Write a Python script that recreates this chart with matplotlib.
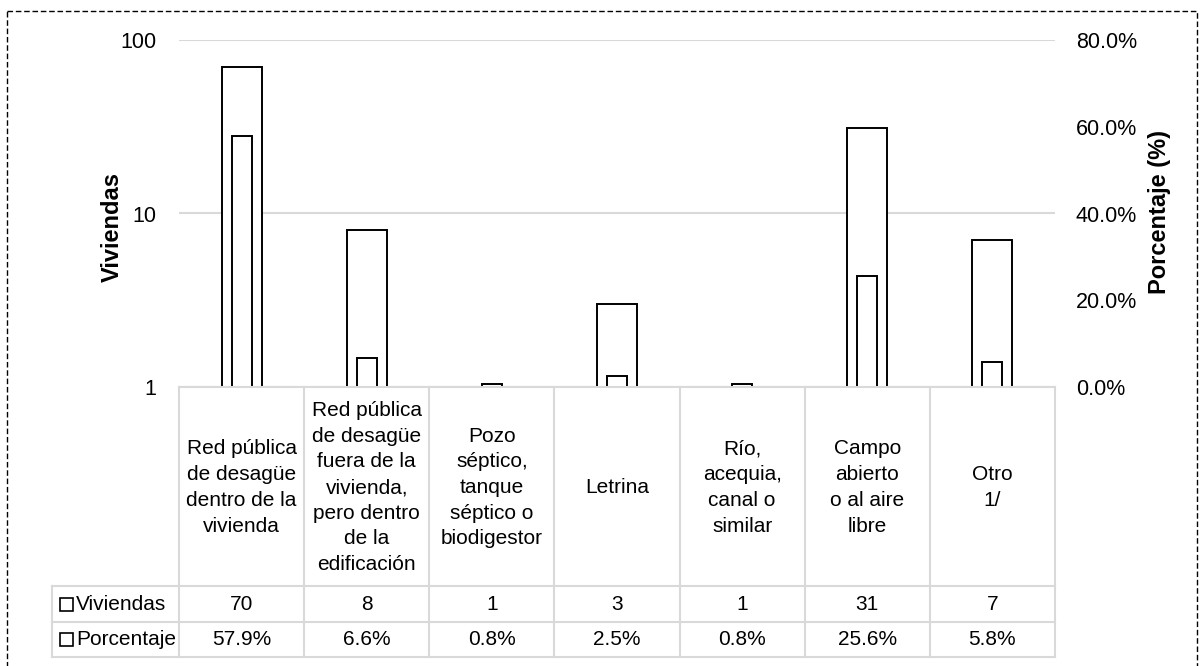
import matplotlib
matplotlib.use("Agg")
import matplotlib.pyplot as plt
from matplotlib.patches import Rectangle
from matplotlib.ticker import FixedLocator, FixedFormatter, PercentFormatter

plt.rcParams['font.family'] = ['Liberation Sans Narrow', 'Liberation Sans', 'DejaVu Sans']

categories = [
    "Red pública\nde desagüe\ndentro de la\nvivienda",
    "Red pública\nde desagüe\nfuera de la\nvivienda,\npero dentro\nde la\nedificación",
    "Pozo\nséptico,\ntanque\nséptico o\nbiodigestor",
    "Letrina",
    "Río,\nacequia,\ncanal o\nsimilar",
    "Campo\nabierto\no al aire\nlibre",
    "Otro\n1/",
]
viviendas = [70, 8, 1, 3, 1, 31, 7]
porcentaje = [57.9, 6.6, 0.8, 2.5, 0.8, 25.6, 5.8]
series_names = ["Viviendas", "Porcentaje"]
left_ticks = [1, 10, 100]
left_ticklabels = ["1", "10", "100"]
right_ticks = [0, 20, 40, 60, 80]

W, H = 1202, 666
fig = plt.figure(figsize=(W / 100, H / 100), dpi=100)

# plot area in pixels
x0, x1 = 179, 1055
y_top, y_bot = 40, 387
ax = fig.add_axes([x0 / W, 1 - y_bot / H, (x1 - x0) / W, (y_bot - y_top) / H])
n = len(categories)
xs = [i + 0.5 for i in range(n)]

ax.set_yscale('log')
ax.set_xlim(0, n)
ax.set_ylim(1, 100)
ax.bar(xs, viviendas, width=0.32, color='white', edgecolor='black', linewidth=1.4, zorder=3)
ax.yaxis.set_major_locator(FixedLocator(left_ticks))
ax.yaxis.set_major_formatter(FixedFormatter(left_ticklabels))
ax.yaxis.set_minor_locator(FixedLocator([]))
ax.grid(axis='y', color='#d9d9d9', linewidth=1.5, zorder=0)
ax.set_axisbelow(True)
ax.tick_params(axis='y', length=0, pad=16.5, labelsize=15.5)
ax.set_xticks([])
for s in ax.spines.values():
    s.set_visible(False)
ax.set_ylabel("Viviendas", fontsize=17, fontweight='bold')
ax.yaxis.set_label_coords((124 - x0) / (x1 - x0), (y_bot - 227) / (y_bot - y_top))

ax2 = ax.twinx()
ax2.set_ylim(0, 80)
ax2.bar(xs, porcentaje, width=0.16, color='white', edgecolor='black', linewidth=1.4, zorder=3)
ax2.set_yticks(right_ticks)
ax2.yaxis.set_major_formatter(PercentFormatter(decimals=1))
ax2.tick_params(axis='y', length=0, pad=15, labelsize=15.5)
for s in ax2.spines.values():
    s.set_visible(False)
ax2.set_ylabel("Porcentaje (%)", fontsize=17, fontweight='bold')
ax2.yaxis.set_label_coords((1148 - x0) / (x1 - x0), (y_bot - 212) / (y_bot - y_top))

# overlay in pixel coordinates for the data table and the frame
ov = fig.add_axes([0, 0, 1, 1])
ov.set_xlim(0, W)
ov.set_ylim(H, 0)
ov.axis('off')
ov.patch.set_visible(False)

gc = '#d9d9d9'
lab_x0 = 52
r0, r1, r2, r3 = 387, 586, 622, 657
colw = (x1 - x0) / n
ov.add_patch(Rectangle((x0, r0 + 0.8), x1 - x0, r3 - r0, facecolor='white', edgecolor='none', zorder=1))
ov.plot([x0, x1], [r0, r0], color=gc, lw=1.5, zorder=2)
for yy in (r1, r2, r3):
    ov.plot([lab_x0, x1], [yy, yy], color=gc, lw=1.5, zorder=2)
for i in range(n + 1):
    xx = x0 + i * colw
    ov.plot([xx, xx], [r0, r3], color=gc, lw=1.5, zorder=2)
ov.plot([lab_x0, lab_x0], [r1, r3], color=gc, lw=1.5, zorder=2)

fs = 15
for i, cat in enumerate(categories):
    cx = x0 + (i + 0.5) * colw
    ov.text(cx, (r0 + r1) / 2 + 1, cat, ha='center', va='center', fontsize=fs, linespacing=1.45, zorder=3)
    ov.text(cx, (r1 + r2) / 2, str(viviendas[i]), ha='center', va='center', fontsize=fs, zorder=3)
    ov.text(cx, (r2 + r3) / 2, f"{porcentaje[i]:.1f}%", ha='center', va='center', fontsize=fs, zorder=3)

for (ya, yb), name in zip([(r1, r2), (r2, r3)], series_names):
    cy = (ya + yb) / 2
    ov.add_patch(Rectangle((60, cy - 6.5), 13, 13, facecolor='white', edgecolor='black', lw=1.2, zorder=3))
    ov.text(76, cy, name, ha='left', va='center', fontsize=fs, zorder=3)

# dashed frame
ov.add_patch(Rectangle((7, 11), 1190, 700, facecolor='none', edgecolor='black', lw=1.0,
                       linestyle=(0, (4, 2)), zorder=4, clip_on=False))

fig.savefig("out.png", dpi=100, facecolor='white')
